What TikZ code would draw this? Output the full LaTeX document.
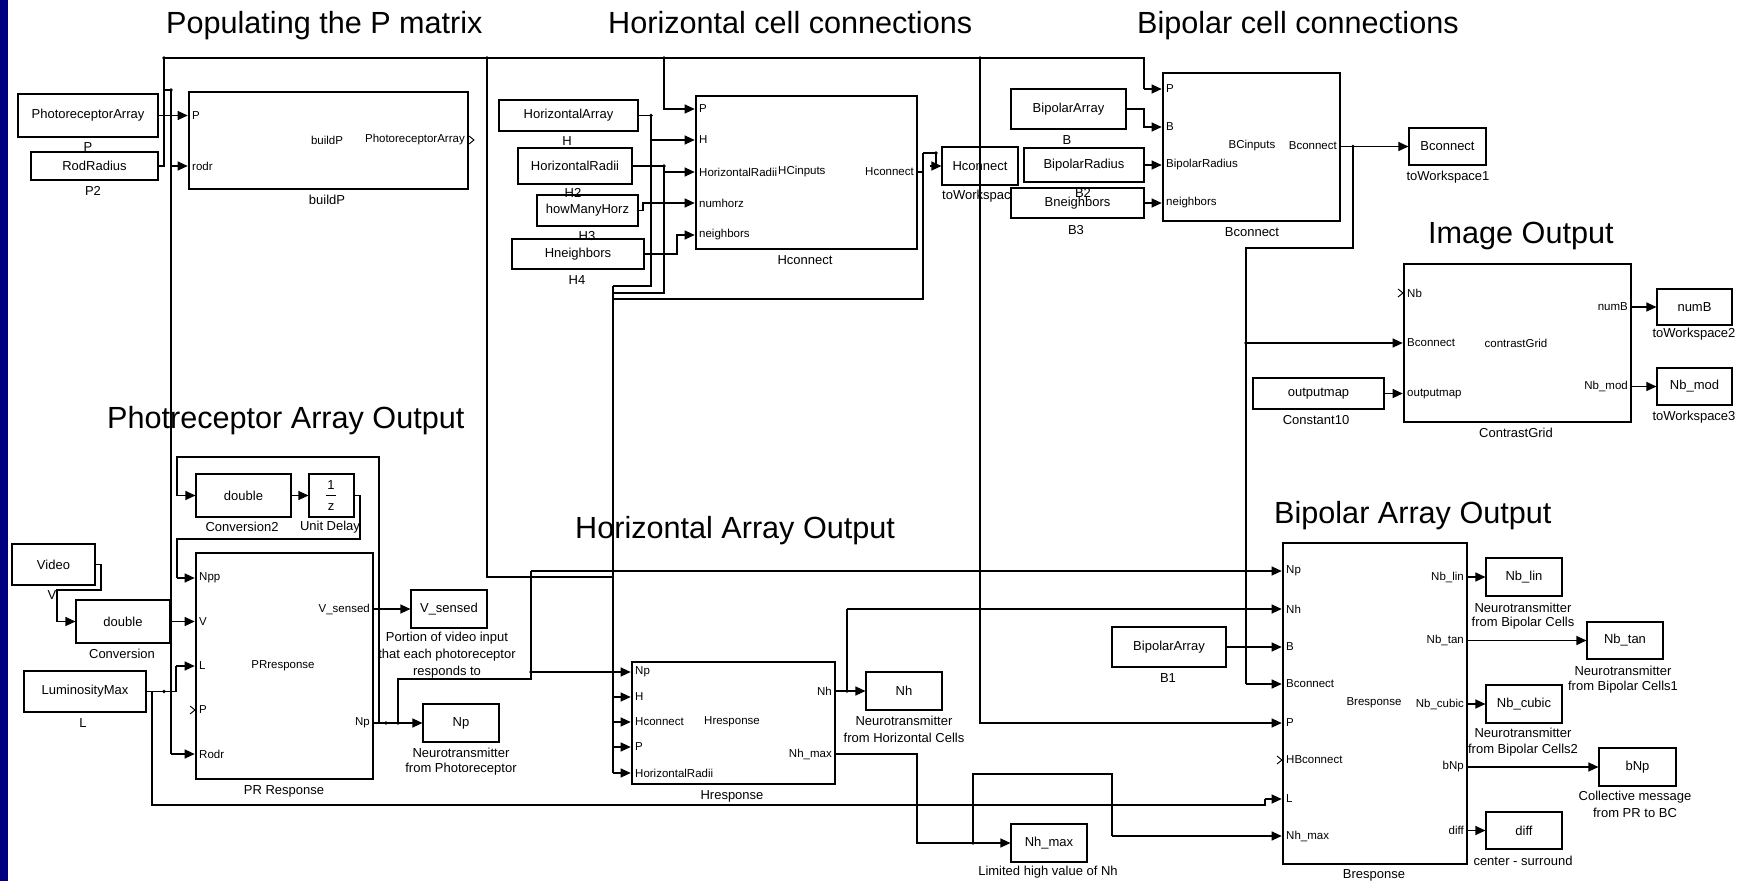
\documentclass[tikz,border=0pt]{standalone}
\usepackage{fontspec}
\setmainfont{Liberation Sans}
\usetikzlibrary{arrows.meta}
\definecolor{navyB}{RGB}{0,0,128}
\newcommand\myL{\fontsize{13}{15}\selectfont}
\newcommand\myP{\fontsize{11.5}{13}\selectfont}
\newcommand\myT{\fontsize{30.6}{34}\selectfont}
\newcommand\bx[7]{\node[#2, minimum width={(#5-#3)*1pt}, minimum height={(#6-#4)*1pt}] (#1) at ({(#3+#5)/2},{(#4+#6)/2}) {#7};}
\newcommand\chev[2]{\draw[line width=0.9pt] (#1-6,#2-4) -- (#1-1,#2) -- (#1-6,#2+4);}
\newcommand\pL[3]{\node[prt,anchor=west] at (#1+3,#2) {#3};}
\newcommand\pR[3]{\node[prt,anchor=east] at (#1-3,#2) {#3};}
\newcommand\jdot[2]{\fill (#1,#2) circle (1.9pt);}
\begin{document}
\begin{tikzpicture}[x=1pt,y=-1pt,
  ln/.style={line width=1.1pt},
  arr/.style={line width=1.1pt,-{Triangle[length=10pt,width=9pt]}},
  sbox/.style={draw,line width=1.1pt,fill=white,inner sep=0pt,font=\myL},
  tblk/.style={draw,line width=2.6pt,fill=white,inner sep=0pt},
  lab/.style={inner sep=0pt,font=\myL},
  prt/.style={inner sep=0pt,font=\myP},
  ttl/.style={inner sep=0pt,font=\myT,anchor=base west}]
\fill[white] (0,0) rectangle (1746,881);
\useasboundingbox (0,0) rectangle (1746,881);
\fill[navyB] (0,0) rectangle (8,881);

% titles
\node[ttl] (t1) at (166,33) {Populating the P matrix};
\node[ttl] (t2) at (608,33) {Horizontal cell connections};
\node[ttl] (t3) at (1137,33) {Bipolar cell connections};
\node[ttl] (t4) at (1428,243) {Image Output};
\node[ttl] (t5) at (107,428) {Photreceptor Array Output};
\node[ttl] (t6) at (575,538) {Horizontal Array Output};
\node[ttl] (t7) at (1274,523) {Bipolar Array Output};

% boxes and blocks
\bx{pa}{sbox}{18}{94}{158}{137}{PhotoreceptorArray}
\bx{rr}{sbox}{31}{152}{158}{180}{RodRadius}
\bx{bP}{tblk}{189}{92}{468}{189}{}
\bx{ha}{sbox}{499}{100}{638}{131}{HorizontalArray}
\bx{hr}{sbox}{518}{148}{632}{184}{HorizontalRadii}
\bx{hm}{sbox}{537}{195}{638}{226}{howManyHorz}
\bx{hn}{sbox}{512}{239}{644}{269}{Hneighbors}
\bx{hC}{tblk}{696}{96}{917}{249}{}
\bx{hw}{sbox}{942}{147}{1018}{185}{Hconnect}
\node[lab] (lhw) at (980,196) {toWorkspace};
\bx{ba}{sbox}{1011}{89}{1126}{129}{BipolarArray}
\bx{bn}{sbox}{1011}{188}{1144}{218}{Bneighbors}
\bx{br}{sbox}{1024}{148}{1144}{182}{BipolarRadius}
\bx{bC}{tblk}{1163}{73}{1340}{221}{}
\bx{bw}{sbox}{1409}{128}{1486}{165}{Bconnect}
\bx{cG}{tblk}{1404}{264}{1631}{422}{}
\bx{nB}{sbox}{1657}{289}{1732}{325}{numB}
\bx{nM}{sbox}{1657}{368}{1732}{405}{Nb\_mod}
\bx{om}{sbox}{1253}{378}{1384}{409}{outputmap}
\bx{vid}{sbox}{12}{544}{95}{585}{Video}
\bx{cv}{sbox}{76}{600}{170}{643}{double}
\bx{cvb}{sbox}{196}{474}{291}{517}{double}
\bx{ud}{sbox}{309}{474}{354}{517}{}
\bx{lm}{sbox}{24}{671}{146}{712}{LuminosityMax}
\bx{pR}{tblk}{196}{553}{373}{779}{}
\bx{vs}{sbox}{411}{590}{487}{628}{V\_sensed}
\bx{np}{sbox}{423}{704}{499}{742}{Np}
\bx{hR}{tblk}{632}{662}{835}{784}{}
\bx{nh}{sbox}{866}{672}{942}{710}{Nh}
\bx{nx}{sbox}{1011}{824}{1087}{862}{Nh\_max}
\bx{bA}{sbox}{1112}{627}{1226}{667}{BipolarArray}
\bx{bR}{tblk}{1283}{543}{1467}{864}{}
\bx{oa}{sbox}{1486}{558}{1562}{596}{Nb\_lin}
\bx{ob}{sbox}{1587}{622}{1663}{659}{Nb\_tan}
\bx{oc}{sbox}{1486}{685}{1562}{723}{Nb\_cubic}
\bx{od}{sbox}{1599}{748}{1676}{786}{bNp}
\bx{oe}{sbox}{1486}{812}{1562}{849}{diff}

% unit delay content
\node[lab] (ud1) at (331,485) {1};
\draw[line width=0.8pt] (326,495.5) -- (336,495.5);
\node[lab] (ud2) at (331,507) {z};

% labels under boxes
\node[lab] (l1) at (88,147) {P};
\node[lab] (l2) at (93,191) {P2};
\node[lab] (l3) at (327,200) {buildP};
\node[lab] (l4) at (567,141) {H};
\node[lab] (l5) at (573,193) {H2};
\node[lab] (l6) at (587,236) {H3};
\node[lab] (l7) at (577,280) {H4};
\node[lab] (l8) at (805,260) {Hconnect};
\node[lab] (l9) at (1067,140) {B};
\node[lab] (l10) at (1083,193) {B2};
\node[lab] (l11) at (1076,230) {B3};
\node[lab] (l12) at (1252,232) {Bconnect};
\node[lab] (l13) at (1448,177) {toWorkspace1};
\node[lab] (l14) at (1694,334) {toWorkspace2};
\node[lab] (l15) at (1694,417) {toWorkspace3};
\node[lab] (l16) at (1316,420) {Constant10};
\node[lab] (l17) at (1516,433) {ContrastGrid};
\node[lab] (l18) at (52,595) {V};
\node[lab] (l19) at (122,654) {Conversion};
\node[lab] (l20) at (242,527) {Conversion2};
\node[lab] (l21) at (330,527) {Unit Delay};
\node[lab] (l22) at (83,723) {L};
\node[lab] (l23) at (284,791) {PR Response};
\node[lab] (l24) at (447,638) {Portion of video input};
\node[lab] (l25) at (447,655) {that each photoreceptor};
\node[lab] (l26) at (447,672) {responds to};
\node[lab] (l27) at (461,753) {Neurotransmitter};
\node[lab] (l28) at (461,769) {from Photoreceptor};
\node[lab] (l29) at (732,796) {Hresponse};
\node[lab] (l30) at (904,721) {Neurotransmitter};
\node[lab] (l31) at (904,738) {from Horizontal Cells};
\node[lab] (l32) at (1048,872) {Limited high value of Nh};
\node[lab] (l33) at (1168,678) {B1};
\node[lab] (l34) at (1374,875) {Bresponse};
\node[lab] (l35) at (1523,608) {Neurotransmitter};
\node[lab] (l36) at (1523,623) {from Bipolar Cells};
\node[lab] (l37) at (1623,671) {Neurotransmitter};
\node[lab] (l38) at (1623,687) {from Bipolar Cells1};
\node[lab] (l39) at (1523,733) {Neurotransmitter};
\node[lab] (l40) at (1523,750) {from Bipolar Cells2};
\node[lab] (l41) at (1635,797) {Collective message};
\node[lab] (l42) at (1635,813) {from PR to BC};
\node[lab] (l43) at (1523,861) {center - surround};

% port labels
\pL{189}{115.5}{P} \pL{189}{166}{rodr}
\node[prt] (bPc) at (327,140) {buildP};
\pR{468}{140}{PhotoreceptorArray}
\pL{696}{109}{P} \pL{696}{140}{H} \pL{696}{172}{HorizontalRadii}
\pL{696}{203}{numhorz} \pL{696}{235}{neighbors}
\node[prt,anchor=west] (hCc) at (778,172) {HCinputs};
\pR{917}{172}{Hconnect}
\pL{1163}{89}{P} \pL{1163}{127}{B} \pL{1163}{165}{BipolarRadius} \pL{1163}{203}{neighbors}
\node[prt] (bCc) at (1252,146) {BCinputs};
\pR{1340}{146}{Bconnect}
\pL{1404}{293}{Nb} \pL{1404}{343}{Bconnect} \pL{1404}{393.5}{outputmap}
\node[prt] (cGc) at (1516,343) {contrastGrid};
\pR{1631}{307}{numB} \pR{1631}{386.5}{Nb\_mod}
\pL{196}{578}{Npp} \pL{196}{621.5}{V} \pL{196}{666}{L} \pL{196}{710}{P} \pL{196}{754}{Rodr}
\node[prt] (pRc) at (283,666) {PRresponse};
\pR{373}{609}{V\_sensed} \pR{373}{723}{Np}
\pL{632}{672}{Np} \pL{632}{697}{H} \pL{632}{722}{Hconnect} \pL{632}{747}{P} \pL{632}{773}{HorizontalRadii}
\node[prt] (hRc) at (732,722) {Hresponse};
\pR{835}{691}{Nh} \pR{835}{754}{Nh\_max}
\pL{1283}{571}{Np} \pL{1283}{609}{Nh} \pL{1283}{647}{B} \pL{1283}{684}{Bconnect}
\pL{1283}{723}{P} \pL{1283}{760}{HBconnect} \pL{1283}{799}{L} \pL{1283}{836}{Nh\_max}
\node[prt] (bRc) at (1374,703) {Bresponse};
\pR{1467}{577}{Nb\_lin} \pR{1467}{640.5}{Nb\_tan} \pR{1467}{704}{Nb\_cubic}
\pR{1467}{767}{bNp} \pR{1467}{830.5}{diff}

% open ports
\chev{1404}{293} \chev{196}{710} \chev{1283}{760}
\draw[line width=0.9pt] (469,136) -- (474,140) -- (469,144);

% connectors: top
\draw[arr] (pa.east) -- (pa.east -| bP.west);
\draw[ln] (rr.east) -- (164,166) -- (164,58) -- (1144,58) -- (1144,89);
\draw[arr] (1144,89) -- (bC.west |- 0,89);
\draw[ln] (164,90) -- (171,90) -- (171,754);
\draw[arr] (171,754) -- (pR.west |- 0,754);
\draw[arr] (171,166) -- (rr.east -| bP.west);
\draw[ln] (487,58) -- (487,577) -- (613,577);
\draw[arr] (664,58) -- (664,109) -- (hC.west |- 0,109);
\draw[arr] (980,58) -- (980,723) -- (bR.west |- 0,723);
\draw[ln] (ha.east) -- (651,115.5) -- (651,286) -- (613,286);
\draw[arr] (651,140) -- (hC.west |- 0,140);
\draw[ln] (hr.east) -- (664,166) -- (664,293) -- (613,293);
\draw[arr] (664,172) -- (hC.west |- 0,172);
\draw[arr] (hm.east) -- (643,210.5) -- (643,203) -- (hC.west |- 0,203);
\draw[arr] (hn.east) -- (677,254) -- (677,235) -- (hC.west |- 0,235);
\draw[ln] (hC.east |- 0,172) -- (923,172);
\draw[ln] (923,153) -- (923,299) -- (613,299);
\draw[ln] (923,153) -- (936,153) -- (936,166);
\draw[arr] (930,166) -- (hw.west);
\draw[ln] (613,286) -- (613,773);
\draw[arr] (613,697) -- (hR.west |- 0,697);
\draw[arr] (613,722) -- (hR.west |- 0,722);
\draw[arr] (613,747) -- (hR.west |- 0,747);
\draw[arr] (613,773) -- (hR.west |- 0,773);
\draw[arr] (ba.east) -- (1144,109) -- (1144,127) -- (bC.west |- 0,127);
\draw[arr] (br.east) -- (bC.west |- br.east);
\draw[arr] (bn.east) -- (bC.west |- bn.east);
\draw[arr] (bC.east |- bw.west) -- (bw.west);
\draw[ln] (1353,146.5) -- (1353,248) -- (1246,248) -- (1246,684);
\draw[arr] (1246,684) -- (bR.west |- 0,684);
\draw[arr] (1246,343) -- (cG.west |- 0,343);
\draw[arr] (om.east) -- (om.east -| cG.west);
\draw[arr] (cG.east |- 0,307) -- (nB.west);
\draw[arr] (cG.east |- nM.west) -- (nM.west);

% connectors: bottom
\draw[arr] (vid.east) -- (101,564.5) -- (101,590) -- (57,590) -- (57,621.5) -- (cv.west);
\draw[arr] (cv.east) -- (cv.east -| pR.west);
\draw[arr] (pR.east |- np.west) -- (np.west);
\draw[ln] (379,723) -- (379,457) -- (177,457) -- (177,495.5);
\draw[arr] (177,495.5) -- (cvb.west);
\draw[arr] (cvb.east) -- (ud.west);
\draw[ln] (ud.east) -- (360,495.5) -- (360,539) -- (177,539) -- (177,578);
\draw[arr] (177,578) -- (pR.west |- 0,578);
\draw[arr] (pR.east |- vs.west) -- (vs.west);
\draw[ln] (lm.east) -- (176,691.5) -- (176,666);
\draw[arr] (176,666) -- (pR.west |- 0,666);
\draw[ln] (152,691.5) -- (152,805) -- (1265,805) -- (1265,799);
\draw[arr] (1265,799) -- (bR.west |- 0,799);
\draw[ln] (398,723) -- (398,679) -- (531,679) -- (531,571);
\draw[arr] (531,571) -- (bR.west |- 0,571);
\draw[arr] (531,672) -- (hR.west |- 0,672);
\draw[arr] (hR.east |- nh.west) -- (nh.west);
\draw[ln] (847,691) -- (847,609);
\draw[arr] (847,609) -- (bR.west |- 0,609);
\draw[arr] (hR.east |- 0,754) -- (917,754) -- (917,843) -- (nx.west);
\draw[ln] (973,843) -- (973,774) -- (1112,774) -- (1112,836);
\draw[arr] (1112,836) -- (bR.west |- 0,836);
\draw[arr] (bA.east) -- (bA.east -| bR.west);
\draw[arr] (bR.east |- oa.west) -- (oa.west);
\draw[arr] (bR.east |- ob.west) -- (ob.west);
\draw[arr] (bR.east |- oc.west) -- (oc.west);
\draw[arr] (bR.east |- od.west) -- (od.west);
\draw[arr] (bR.east |- oe.west) -- (oe.west);

% junction dots
\jdot{164}{58} \jdot{171}{90} \jdot{487}{58} \jdot{664}{58} \jdot{980}{58}
\jdot{651}{115.5} \jdot{664}{166} \jdot{936}{153} \jdot{1353}{146.5} \jdot{1246}{343}
\jdot{164}{691.5} \jdot{386}{723} \jdot{398}{723} \jdot{531}{672} \jdot{847}{691} \jdot{973}{843}
\end{tikzpicture}
\end{document}
